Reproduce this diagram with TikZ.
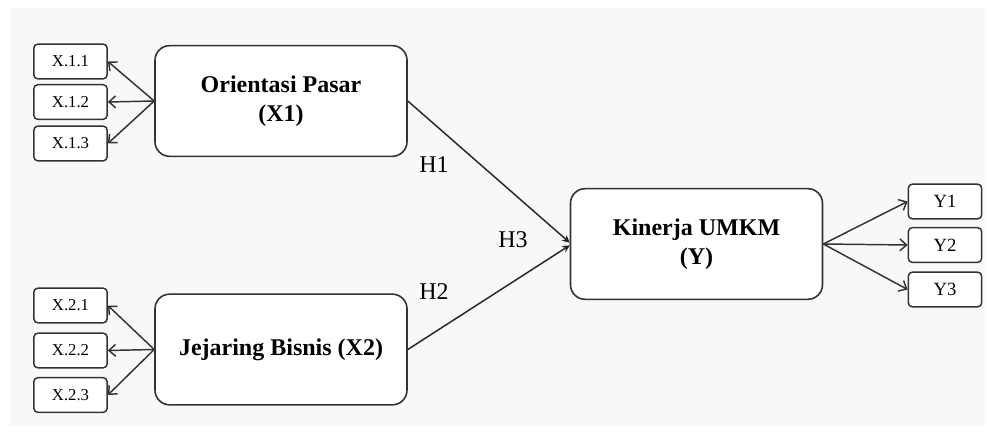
\documentclass[tikz,border=0pt]{standalone}
\usepackage{fontspec}
\setmainfont{Liberation Serif}
\usetikzlibrary{arrows.meta}

\definecolor{panelgray}{HTML}{F8F8F8}
\definecolor{edgegray}{HTML}{333333}

\tikzset{
  konstruk/.style={draw=edgegray,line width=1.2pt,rounded corners=11pt,fill=white,
    minimum width=189pt,minimum height=83pt,align=center,
    font=\fontsize{18}{21.5}\selectfont\bfseries},
  indikator/.style={draw=edgegray,line width=1.1pt,rounded corners=3pt,fill=white,
    minimum width=55pt,minimum height=26pt,inner sep=0pt,
    font=\fontsize{12.5}{14}\selectfont},
  muat/.style={draw=edgegray,line width=1.1pt,-{Straight Barb[length=5pt,width=9pt]}},
  jalur/.style={draw=black!85,line width=1.1pt,-{Stealth[length=5.5pt,width=5.5pt]}},
  hipo/.style={font=\fontsize{18}{20}\selectfont}
}

\begin{document}
\begin{tikzpicture}[x=0.75pt,y=-0.75pt]
\useasboundingbox (0,0) rectangle (989,434);
% panel
\fill[panelgray] (10,8) rectangle (985,426);
% constructs
\node[konstruk] (OP) at (281,101) {Orientasi Pasar\\(X1)};
\node[konstruk] (JB) at (281,349.5) {Jejaring Bisnis (X2)};
\node[konstruk] (KU) at (696.5,244) {Kinerja UMKM\\(Y)};
% indicators of X1 and X2
\foreach \i/\y in {1/61.5, 2/102, 3/143.5} {
  \node[indikator] (X1\i) at (70.5,\y) {X.1.\i};
  \draw[muat] (OP.west) -- (X1\i.east);
}
\foreach \i/\y in {1/305.5, 2/350.5, 3/395} {
  \node[indikator] (X2\i) at (70.5,\y) {X.2.\i};
  \draw[muat] (JB.west) -- (X2\i.east);
}
% indicators of Y
\foreach \i/\y in {1/201.5, 2/245, 3/289.5} {
  \node[indikator,font=\fontsize{14}{16}\selectfont] (Y\i) at (945,\y) {Y\i};
  \draw[muat] (KU.east) -- (Y\i.west);
}
% hypotheses
\draw[jalur] (OP.east) -- ([yshift=1pt]KU.west);
\draw[jalur] (JB.east) -- ([yshift=-1pt]KU.west);
\node[hipo] (H1) at (434,165) {H1};
\node[hipo] (H2) at (434,292) {H2};
\node[hipo] (H3) at (513,240) {H3};
\end{tikzpicture}
\end{document}
